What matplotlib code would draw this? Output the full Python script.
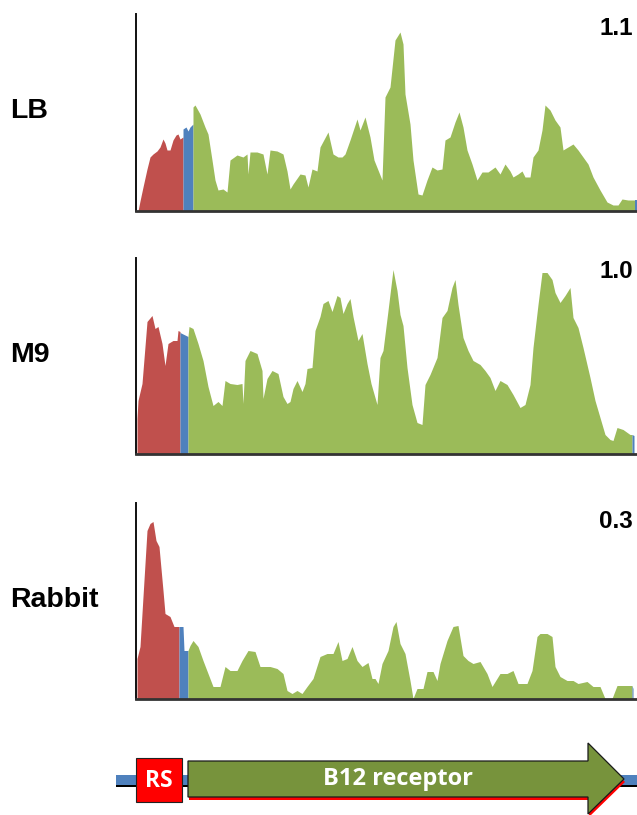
import matplotlib
matplotlib.use("Agg")
import matplotlib.pyplot as plt
from matplotlib.patches import Polygon, Rectangle

# ---------------- data (position along locus, relative coverage) ----------------
LB_RED_X = [2, 4, 7, 11, 14, 17, 21, 24, 27, 29, 31, 34, 37, 40, 42, 44, 47]
LB_RED_Y = [0, 10, 24, 42, 54, 57, 60, 64, 72, 68, 61, 61, 71, 76, 77, 72, 74]
LB_BLUE_X = [47, 50, 52, 54, 57]
LB_BLUE_Y = [82, 84, 80, 84, 87]
LB_GREEN_X = [57, 59, 64, 69, 72, 76, 79, 82, 87, 91, 94, 101, 107, 111, 112, 114, 121, 127,
              131, 134, 141, 147, 151, 154, 157, 164, 169, 172, 176, 181, 184, 192, 197, 202,
              206, 209, 214, 221, 224, 229, 234, 238, 246, 249, 254, 259, 264, 267, 269, 274,
              277, 282, 286, 291, 296, 301, 306, 309, 314, 319, 323, 327, 331, 336, 341, 346,
              352, 359, 364, 369, 374, 377, 382, 386, 389, 394, 397, 402, 406, 409, 414, 419,
              424, 427, 432, 437, 442, 447, 452, 457, 464, 471, 477, 482, 486, 492, 499]
LB_GREEN_Y = [104, 106, 97, 84, 77, 51, 31, 21, 22, 19, 51, 56, 54, 57, 37, 59, 59, 57,
              37, 61, 60, 57, 40, 22, 27, 37, 36, 24, 42, 40, 64, 79, 57, 54,
              54, 57, 71, 92, 81, 94, 74, 51, 31, 114, 124, 171, 179, 167, 117, 87,
              51, 17, 16, 31, 44, 41, 42, 71, 74, 89, 99, 84, 61, 47, 31, 39,
              39, 44, 37, 47, 40, 34, 37, 40, 34, 34, 54, 61, 81, 106, 101, 91,
              84, 61, 64, 67, 61, 54, 47, 34, 21, 9, 6, 6, 12, 11, 11]
LB_END_X = [499, 501]
LB_END_Y = [11, 11]

M9_RED_X = [1, 2, 6, 11, 16, 19, 22, 26, 29, 32, 37, 41, 42, 44]
M9_RED_Y = [35, 53, 70, 132, 138, 125, 127, 110, 88, 110, 113, 113, 123, 122]
M9_BLUE_X = [44, 48, 52]
M9_BLUE_Y = [121, 119, 117]
M9_GREEN_X = [52, 53, 57, 62, 67, 72, 77, 82, 86, 89, 94, 101, 106, 107, 109, 114, 121, 126,
              127, 131, 136, 142, 147, 151, 154, 157, 161, 166, 169, 171, 176, 179, 184, 187,
              192, 196, 201, 204, 207, 211, 214, 217, 222, 226, 231, 235, 241, 244, 247, 252,
              257, 261, 264, 267, 271, 276, 281, 286, 289, 294, 301, 306, 311, 316, 319, 322,
              327, 332, 337, 344, 349, 354, 359, 364, 371, 377, 384, 389, 394, 397, 402, 406,
              411, 416, 419, 424, 429, 434, 437, 442, 447, 454, 459, 464, 469, 474, 477, 481,
              487, 494, 496]
M9_GREEN_Y = [117, 127, 125, 110, 93, 67, 48, 52, 48, 73, 70, 69, 70, 50, 93, 103, 100, 83,
              55, 75, 83, 80, 57, 50, 52, 65, 73, 62, 70, 85, 86, 123, 137, 150,
              153, 142, 158, 156, 140, 150, 155, 137, 113, 120, 90, 70, 49, 96, 103, 143,
              184, 163, 139, 128, 86, 49, 31, 29, 69, 79, 96, 136, 143, 166, 174, 149,
              116, 103, 93, 89, 83, 76, 63, 73, 69, 59, 46, 49, 69, 106, 149, 181,
              181, 174, 161, 151, 158, 166, 136, 126, 106, 76, 53, 36, 19, 14, 13, 26,
              24, 19, 19]
M9_END_X = [496, 498]
M9_END_Y = [19, 18]

RB_RED_X = [1, 4, 7, 11, 14, 17, 20, 23, 27, 29, 34, 38, 41, 43]
RB_RED_Y = [40, 52, 102, 168, 175, 177, 158, 152, 108, 85, 82, 72, 72, 72]
RB_BLUE_X = [43, 47, 48, 52]
RB_BLUE_Y = [72, 72, 48, 48]
RB_GREEN_X = [52, 54, 57, 62, 67, 72, 77, 84, 89, 94, 101, 106, 112, 119, 124, 129, 134, 141,
              147, 151, 156, 161, 166, 171, 177, 184, 191, 197, 202, 206, 211, 216, 221, 226,
              232, 236, 239, 242, 246, 252, 257, 260, 264, 269, 274, 277, 281, 287, 291, 297,
              301, 304, 311, 317, 322, 327, 332, 337, 344, 351, 356, 364, 371, 377, 382, 391,
              396, 401, 404, 411, 416, 419, 424, 431, 437, 442, 451, 457, 464, 469, 476, 481,
              492, 496]
RB_GREEN_Y = [48, 53, 58, 52, 38, 25, 12, 12, 32, 28, 28, 38, 48, 47, 32, 32, 32, 30,
              25, 8, 5, 8, 5, 12, 20, 42, 45, 45, 57, 38, 40, 52, 38, 32,
              36, 20, 20, 15, 35, 48, 72, 77, 55, 45, 18, 0, 10, 10, 27, 27,
              18, 35, 58, 72, 73, 43, 38, 35, 37, 25, 12, 25, 25, 28, 15, 15,
              28, 62, 65, 65, 62, 32, 22, 18, 18, 15, 17, 12, 12, 0, 0, 13,
              13, 13]
RB_END_X = [496, 497]
RB_END_Y = [13, 10]

CONDITIONS = ["LB", "M9", "Rabbit"]
RATIOS = ["1.1", "1.0", "0.3"]

# gene map labels
RS_LABEL = "RS"
GENE_LABEL = "B12 receptor"

RED = "#C0504D"
BLUE = "#4F81BD"
GREEN = "#9BBB59"

W, H = 637, 815
fig = plt.figure(figsize=(W / 100, H / 100), dpi=100)

panels = [
    (LB_RED_X, LB_RED_Y, LB_BLUE_X, LB_BLUE_Y, LB_GREEN_X, LB_GREEN_Y, LB_END_X, LB_END_Y, 14, 211),
    (M9_RED_X, M9_RED_Y, M9_BLUE_X, M9_BLUE_Y, M9_GREEN_X, M9_GREEN_Y, M9_END_X, M9_END_Y, 258, 453.5),
    (RB_RED_X, RB_RED_Y, RB_BLUE_X, RB_BLUE_Y, RB_GREEN_X, RB_GREEN_Y, RB_END_X, RB_END_Y, 503, 698.5),
]
label_baselines = [118, 362, 607]
ratio_baselines = [35, 278, 528]

left_px = 136
for i, (rx, ry, bx, by, gx, gy, ex, ey, top, bot) in enumerate(panels):
    ax = fig.add_axes([left_px / W, 1 - bot / H, (W - left_px) / W, (bot - top) / H])
    ax.fill_between(rx, ry, 0, color=RED, linewidth=0)
    ax.fill_between(bx, by, 0, color=BLUE, linewidth=0)
    ax.fill_between(gx, gy, 0, color=GREEN, linewidth=0)
    ax.fill_between(ex, ey, 0, color=BLUE, linewidth=0)
    ax.set_xlim(0, W - left_px)
    ax.set_ylim(0, bot - top)
    ax.set_xticks([])
    ax.set_yticks([])
    for s in ["top", "right"]:
        ax.spines[s].set_visible(False)
    ax.spines["left"].set_linewidth(1.4)
    ax.spines["left"].set_color("#111111")
    ax.spines["bottom"].set_linewidth(2.0)
    ax.spines["bottom"].set_color("#333333")
    ax.patch.set_alpha(0)

    fig.text(10 / W, 1 - label_baselines[i] / H, CONDITIONS[i], fontsize=20.5,
             fontweight="bold", family="Liberation Sans", ha="left", va="baseline")
    fig.text(633 / W, 1 - ratio_baselines[i] / H, RATIOS[i], fontsize=17.5,
             fontweight="bold", family="Liberation Sans", ha="right", va="baseline")

# ---------------- gene schematic ----------------
gx_ax = fig.add_axes([0, 0, 1, 1], zorder=-1)
gx_ax.set_xlim(0, W)
gx_ax.set_ylim(H, 0)
gx_ax.axis("off")

# backbone
gx_ax.add_patch(Rectangle((116, 784), W - 116, 3, facecolor="black", edgecolor="none"))
gx_ax.add_patch(Rectangle((116, 775), W - 116, 9.5, facecolor="#4F81BD", edgecolor="none"))

# RS box
gx_ax.add_patch(Rectangle((136, 758), 46, 44, facecolor="#FF0000", edgecolor="#222222", linewidth=0.8))
gx_ax.text(159, 781, RS_LABEL, color="white", fontsize=16.5, fontweight="bold",
           family="Open Sans", ha="center", va="center")

# arrow
arrow_pts = [(188, 761), (588, 761), (588, 743), (624, 779), (588, 814), (588, 797), (188, 797)]
shadow = [(x + 1, y + 3) for (x, y) in arrow_pts]
gx_ax.add_patch(Polygon(shadow, closed=True, facecolor="#FF0000", edgecolor="none"))
gx_ax.add_patch(Polygon(arrow_pts, closed=True, facecolor="#77933C", edgecolor="#1a1a1a", linewidth=0.9))
gx_ax.text(398, 779, GENE_LABEL, color="white", fontsize=17, fontweight="bold",
           family="Open Sans", ha="center", va="center")

fig.savefig("out.png", dpi=100)
